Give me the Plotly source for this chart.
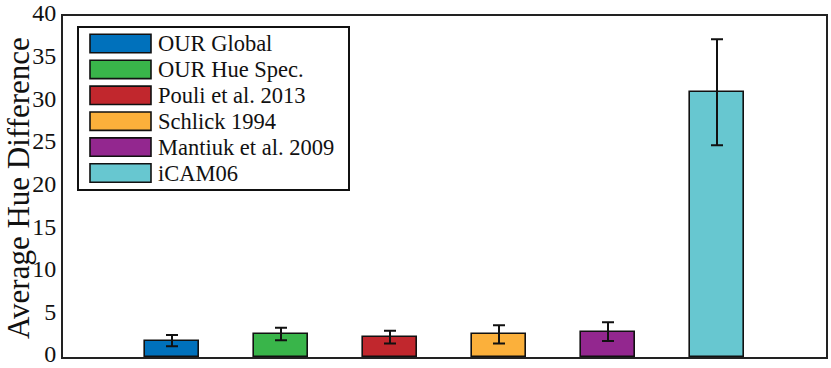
import plotly.graph_objects as go

# ---- data ----
methods = ["OUR Global", "OUR Hue Spec.", "Pouli et al. 2013",
           "Schlick 1994", "Mantiuk et al. 2009", "iCAM06"]
positions = [1, 2, 3, 4, 5, 6]
mean_hue_diff = [1.92, 2.70, 2.33, 2.65, 2.97, 31.05]
err_hue_diff = [0.66, 0.74, 0.76, 1.07, 1.10, 6.22]
colors = ["#0071BC", "#39B54A", "#C1272D", "#FBB03B", "#93278F", "#67C7D0"]
y_ticks = [0, 5, 10, 15, 20, 25, 30, 35, 40]
y_title = "Average Hue Difference"

W, H = 831, 368
L, R, T, B = 63, 5, 16, 11
FONT = "Liberation Serif"

fig = go.Figure()
for name, xpos, v, e, c in zip(methods, positions, mean_hue_diff, err_hue_diff, colors):
    fig.add_trace(go.Bar(
        x=[xpos], y=[v], name=name, width=0.5,
        marker=dict(color=c, line=dict(color="#111111", width=1.6)),
        error_y=dict(type="data", array=[e], visible=True,
                     color="#111111", thickness=2, width=6),
        showlegend=False,
    ))

# ---- custom legend (wide swatches) in paper coordinates; args in screen px ----
pw, ph = W - L - R, H - T - B
def px(x):
    return (x - L) / pw
def py(y):
    return 1 - (y - T) / ph

shapes = [dict(type="rect", xref="paper", yref="paper",
               x0=px(78), x1=px(349), y0=py(190), y1=py(27),
               line=dict(color="#111111", width=2), fillcolor="white", layer="above")]
annotations = []
for i, (name, c) in enumerate(zip(methods, colors)):
    top = 34.3 + i * 25.9
    bot = top + 18.4
    shapes.append(dict(type="rect", xref="paper", yref="paper",
                       x0=px(90), x1=px(151), y0=py(bot), y1=py(top),
                       line=dict(color="#111111", width=1.6), fillcolor=c, layer="above"))
    annotations.append(dict(xref="paper", yref="paper", x=px(155.5), y=py((top + bot) / 2),
                            text=name, showarrow=False, xanchor="left", yanchor="middle",
                            font=dict(family=FONT, size=22.5, color="#111111")))

# y-axis title as rotated annotation
annotations.append(dict(xref="paper", yref="paper", x=px(18), y=py(188),
                        text=y_title, textangle=-90, showarrow=False,
                        xanchor="center", yanchor="middle",
                        font=dict(family=FONT, size=31, color="#111111")))

fig.update_layout(
    width=W, height=H,
    margin=dict(l=L, r=R, t=T, b=B, autoexpand=False),
    paper_bgcolor="white", plot_bgcolor="white",
    font=dict(family=FONT, color="#111111"),
    shapes=shapes, annotations=annotations,
    showlegend=False,
    bargap=0,
)
fig.update_xaxes(range=[0, 7], showticklabels=False, ticks="", showgrid=False,
                 zeroline=False, showline=True, linecolor="#222222", linewidth=2,
                 mirror=True, fixedrange=True)
fig.update_yaxes(range=[0, 40], tickvals=y_ticks, ticktext=[str(t) for t in y_ticks],
                 ticks="", showgrid=False, zeroline=False, showline=True,
                 linecolor="#222222", linewidth=2, mirror=True,
                 ticklabeloverflow="allow", ticklabelshift=-3,
                 tickfont=dict(family=FONT, size=24, color="#111111"),
                 automargin=False, fixedrange=True)

fig.write_html("out.html", config={"displayModeBar": False},
               post_script="document.body.style.margin='0';")
